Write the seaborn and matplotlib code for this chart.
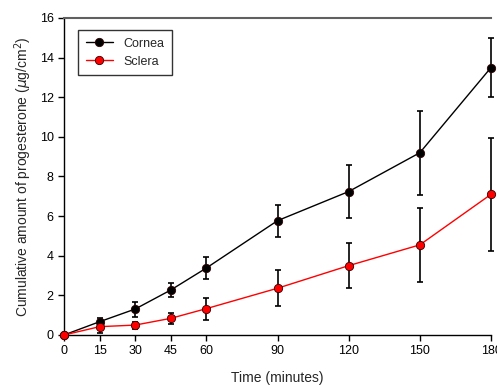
import numpy as np
import pandas as pd
import seaborn as sns
import matplotlib
matplotlib.use('Agg')
import matplotlib.pyplot as plt

# Data
time_min = [0, 15, 30, 45, 60, 90, 120, 150, 180]
cornea = [0, 0.67, 1.31, 2.27, 3.38, 5.77, 7.24, 9.2, 13.5]
cornea_err = [0, 0.18, 0.38, 0.35, 0.55, 0.8, 1.35, 2.12, 1.5]
sclera = [0, 0.42, 0.5, 0.84, 1.33, 2.36, 3.5, 4.55, 7.1]
sclera_err = [0, 0.3, 0.18, 0.28, 0.55, 0.92, 1.15, 1.87, 2.85]
x_ticks = [0, 15, 30, 45, 60, 90, 120, 150, 180]
y_ticks = [0, 2, 4, 6, 8, 10, 12, 14, 16]

df = pd.DataFrame({
    'time': time_min * 2,
    'amount': cornea + sclera,
    'err': cornea_err + sclera_err,
    'tissue': ['Cornea'] * len(time_min) + ['Sclera'] * len(time_min),
})

sns.set_style('ticks')
plt.rcParams['font.family'] = ['Liberation Sans', 'DejaVu Sans']

fig = plt.figure(figsize=(4.97, 3.85), dpi=100)
ax = fig.add_axes([0.1288, 0.1299, 0.8592, 0.8234])

colors = {'Cornea': 'black', 'Sclera': 'red'}
for tissue, sub in df.groupby('tissue'):
    ax.errorbar(sub['time'], sub['amount'], yerr=sub['err'], fmt='none',
                ecolor='black', elinewidth=1.2, capsize=2, capthick=1.2,
                zorder=2, clip_on=False)

sns.lineplot(data=df, x='time', y='amount', hue='tissue', palette=colors,
             marker='o', markersize=6, markeredgecolor='#300000',
             markeredgewidth=0.6, linewidth=1, ax=ax, zorder=3, clip_on=False)

ax.set_xlim(0, 180)
ax.set_ylim(0, 16)
ax.set_xticks(x_ticks)
ax.set_yticks(y_ticks)
ax.tick_params(labelsize=9, length=4, width=1, colors='black')
ax.set_xlabel('Time (minutes)', fontsize=10, labelpad=10)
ax.set_ylabel(r'Cumulative amount of progesterone ($\mu$g/cm$^2$)', fontsize=10, labelpad=4)

ax.spines['right'].set_visible(False)
ax.spines['top'].set_color('#606060')
ax.spines['top'].set_linewidth(1.5)
for s in ['left', 'bottom']:
    ax.spines[s].set_color('black')
    ax.spines[s].set_linewidth(1)

leg = ax.legend(loc='upper left', bbox_to_anchor=(0.033, 0.962), frameon=True,
                fancybox=False, edgecolor='black', fontsize=9, title=None,
                borderaxespad=0, handlelength=2.2, borderpad=0.6)
leg.get_frame().set_linewidth(1)

plt.savefig('out.png', dpi=100)
plt.close()
